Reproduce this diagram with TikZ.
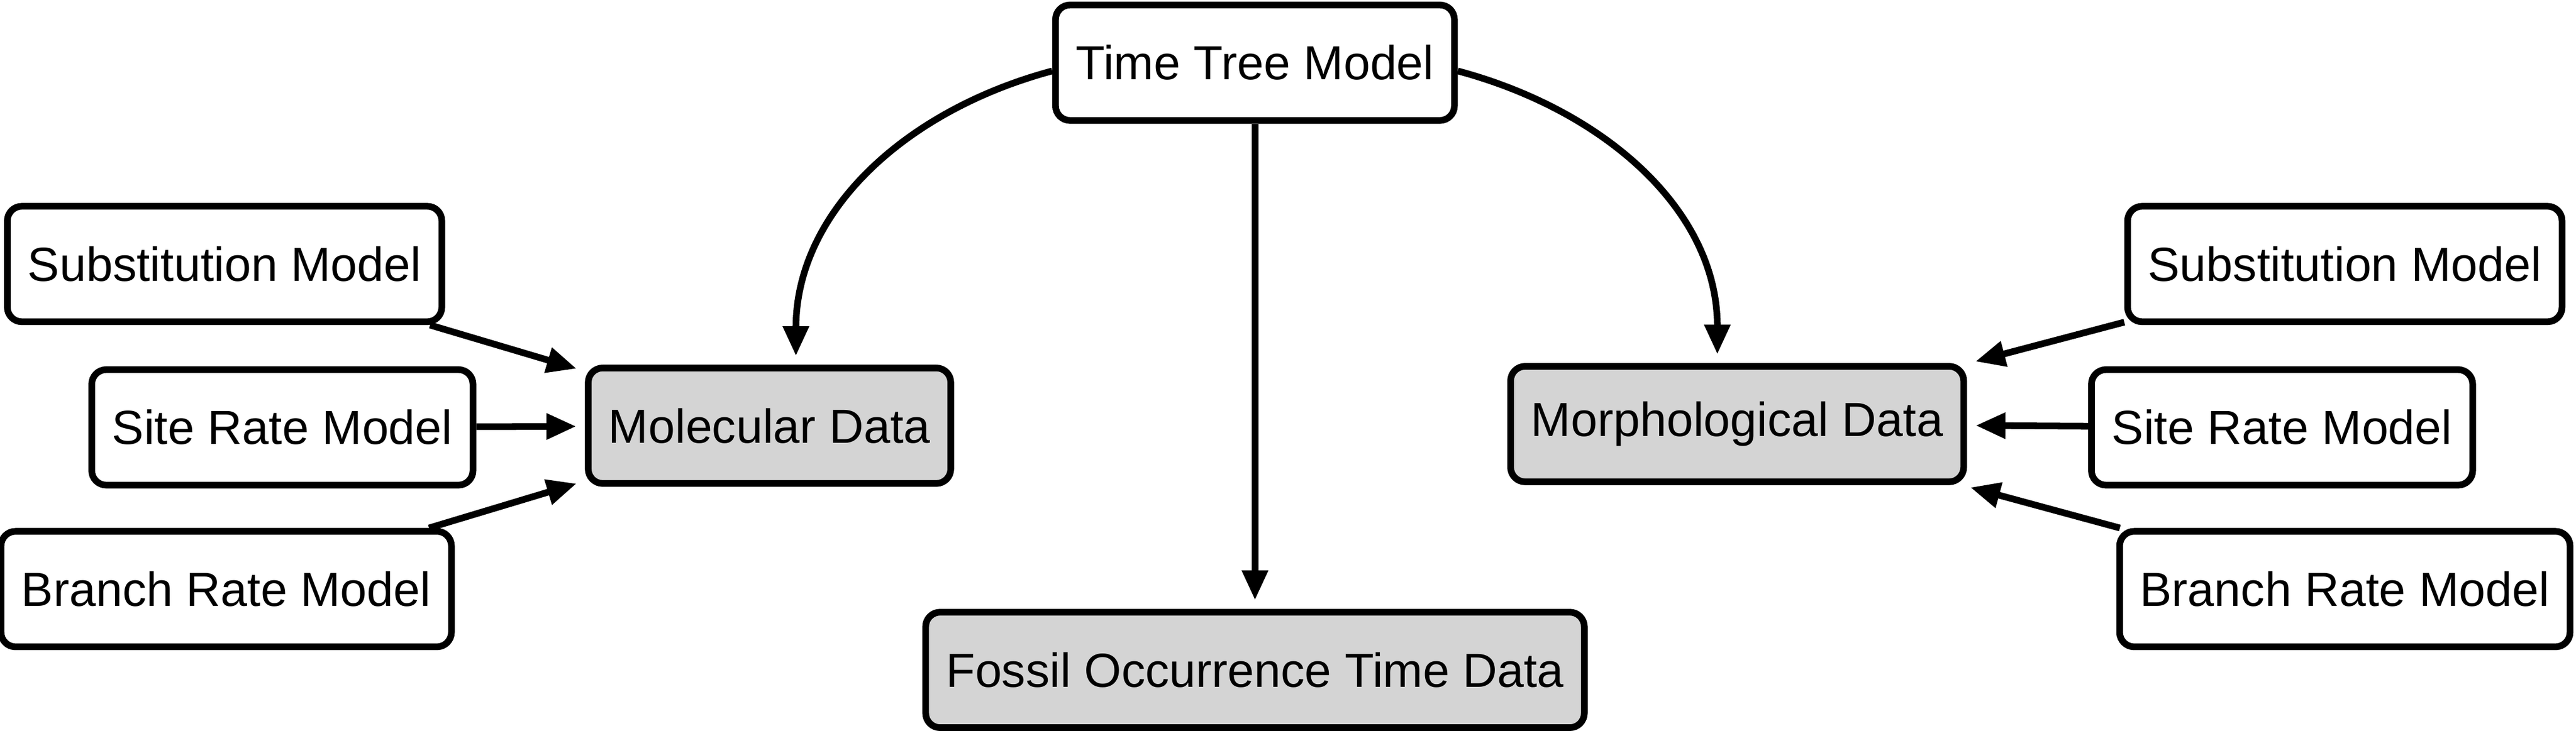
\documentclass[tikz,border=0pt]{standalone}
\usepackage{fontspec}
\setmainfont{Liberation Sans}
\usetikzlibrary{arrows.meta}
\begin{document}
\begin{tikzpicture}[x=0.02cm,y=-0.02cm,
  box/.style={draw,line width=2.3pt,rounded corners=5pt,minimum height=1.4cm,inner xsep=7pt,font=\fontsize{16.5}{19}\selectfont},
  data/.style={box,fill=black!17},
  arr/.style={line width=2.3pt,-{Stealth[length=0.36cm,width=0.3cm,inset=0pt]},shorten >=3pt}]
\path[use as bounding box] (0,0) rectangle (1560,443);
\node[box] (tt) at (760,38) {Time Tree Model};
\node[box] (subL) at (136,160) {Substitution Model};
\node[box] (siteL) at (171,259) {Site Rate Model};
\node[box] (brL) at (137,357) {Branch Rate Model};
\node[data] (mol) at (466,258) {Molecular Data};
\node[data] (fos) at (760,406) {Fossil Occurrence Time Data};
\node[data] (mor) at (1052,257) {Morphological Data};
\node[box] (subR) at (1420,160) {Substitution Model};
\node[box] (siteR) at (1382,259) {Site Rate Model};
\node[box] (brR) at (1420,357) {Branch Rate Model};
\draw[arr] ([yshift=-0.1cm]tt.west) to[out=195,in=90] ([xshift=0.32cm]mol.north);
\draw[arr] ([yshift=-0.1cm]tt.east) to[out=-15,in=90] ([xshift=-0.24cm]mor.north);
\draw[arr] (tt) -- (fos);
\draw[arr] (subL) -- (mol);
\draw[arr] (siteL) -- (mol);
\draw[arr] (brL) -- (mol);
\draw[arr] (subR) -- (mor);
\draw[arr] (siteR) -- (mor);
\draw[arr] (brR) -- (mor);
\end{tikzpicture}
\end{document}
